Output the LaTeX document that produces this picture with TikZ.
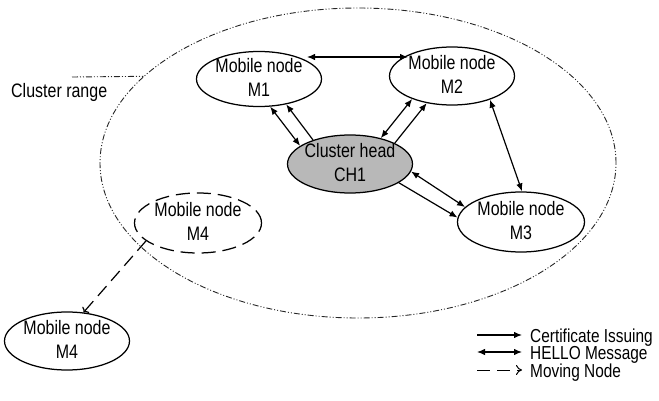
\documentclass[tikz,border=0pt]{standalone}
\usepackage{fontspec}
\setmainfont{Liberation Sans}[FakeStretch=0.82]
\usetikzlibrary{arrows.meta,shapes.geometric}
\newcommand{\lowpad}{\rule[-4pt]{0pt}{4pt}}
\begin{document}
\begin{tikzpicture}[x=1pt,y=-1pt,
  font=\fontsize{19.5}{24}\selectfont,
  mnode/.style={draw, ellipse, line width=1.25pt, inner xsep=-4pt, inner ysep=-8pt, align=center,
    minimum width=125pt, minimum height=58pt},
  headnode/.style={mnode, fill=black!28},
  movednode/.style={mnode, dash pattern=on 14pt off 7pt},
  cldash/.style={draw=black!85, line width=0.9pt,
    dash pattern=on 6pt off 2pt on 1pt off 2pt on 1pt off 2pt},
  cluster/.style={cldash, ellipse, inner sep=0pt,
    minimum width=516pt, minimum height=310pt},
  tipL/.tip={Latex[length=8pt,width=6.5pt]},
  hello/.style={line width=1.2pt, tipL-tipL},
  cert/.style={line width=1.2pt, -tipL},
  moving/.style={line width=1.2pt, dash pattern=on 13pt off 7pt, -{To[length=4pt,width=9pt]}},
  legtext/.style={anchor=base west, inner sep=0pt, font=\fontsize{18.8}{22}\selectfont}
]
\useasboundingbox (0,0) rectangle (659,401);

% cluster range
\node[cluster] (cr) at (358,163) {};
\coordinate (crs) at (72,77);
\draw[cldash] (crs) -- (cr.158);
\node[anchor=base west, inner sep=0pt] (crl) at (11,97.5) {Cluster range};

% nodes
\node[mnode, minimum height=55pt] (m1) at (259,79) {Mobile node\\M1\lowpad};
\node[mnode] (m2) at (452,76) {Mobile node\\M2\lowpad};
\node[headnode] (ch) at (350,164) {Cluster head\\CH1\lowpad};
\node[mnode, minimum width=127pt, minimum height=60pt] (m3) at (521,222) {Mobile node\\M3\lowpad};
\node[movednode, minimum width=127pt, minimum height=60pt] (m4a) at (198,223) {Mobile node\\M4\lowpad};
\node[mnode] (m4b) at (67,341) {Mobile node\\M4\lowpad};

% connectors
\draw[hello] ([xshift=48pt,yshift=22pt]m1.center) -- ([xshift=-44pt,yshift=19pt]m2.center);
\draw[hello] (m1.-68) -- (ch.160);
\draw[cert] (ch.147) -- (m1.-43);
\draw[hello] (ch.40) -- (m2.-150);
\draw[cert] (ch.25) -- (m2.-133);
\draw[hello] (m2.-32) -- (m3.88);
\draw[hello] (ch.-7) -- (m3.165);
\draw[cert] (ch.-21) -- (m3.176);
\draw[moving] (m4a.199) -- (m4b.60);

% legend
\coordinate (l1a) at (477,335); \coordinate (l1b) at (522,335);
\coordinate (l2a) at (477,352); \coordinate (l2b) at (522,352);
\coordinate (l3a) at (477,370); \coordinate (l3b) at (522,370);
\draw[cert] (l1a) -- (l1b);
\draw[hello] (l2a) -- (l2b);
\draw[line width=1pt, dash pattern=on 13pt off 7pt, -{To[length=6pt,width=10pt]}] (l3a) -- (l3b);
\node[legtext] (t1) at (530,342) {Certificate Issuing};
\node[legtext] (t2) at (530,359.5) {HELLO Message};
\node[legtext] (t3) at (530,377) {Moving Node};
\end{tikzpicture}
\end{document}
